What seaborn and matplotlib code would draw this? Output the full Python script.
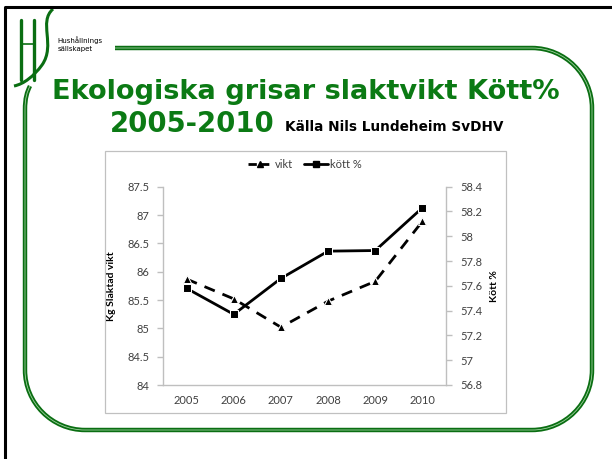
import numpy as np
import pandas as pd
import seaborn as sns
import matplotlib.pyplot as plt
from matplotlib.path import Path
from matplotlib.patches import PathPatch, Rectangle
from matplotlib.lines import Line2D

# data
years = ["2005", "2006", "2007", "2008", "2009", "2010"]
vikt = [85.87, 85.52, 85.02, 85.48, 85.83, 86.89]
kott = [57.58, 57.37, 57.66, 57.88, 57.885, 58.23]

left_ticks = [84, 84.5, 85, 85.5, 86, 86.5, 87, 87.5]
right_ticks = [56.8, 57, 57.2, 57.4, 57.6, 57.8, 58, 58.2, 58.4]

df = pd.DataFrame({"year": years, "vikt": vikt, "kott": kott})

sns.set_theme(style="white")
plt.rcParams["font.family"] = ["Lato", "DejaVu Sans"]

W, H = 612, 459
fig = plt.figure(figsize=(W / 100, H / 100), dpi=100)
fig.patch.set_facecolor("white")

# background axes in pixel coords for the slide decoration
bg = fig.add_axes([0, 0, 1, 1], zorder=0)
bg.set_xlim(0, W)
bg.set_ylim(H, 0)
bg.axis("off")

green = "#0a6e12"
tgreen = "#0b7a14"

# black slide border (cropped at right/bottom)
bg.plot([5, 5, W + 5], [H + 5, 7, 7], color="black", lw=2.2)

# rounded green frame
r = 60
k = 0.55 * r
verts = [(115, 48), (592 - r, 48),
         (592 - r + k, 48), (592, 48 + r - k), (592, 48 + r),
         (592, 430 - r),
         (592, 430 - r + k), (592 - r + k, 430), (592 - r, 430),
         (25 + r, 430),
         (25 + r - k, 430), (25, 430 - r + k), (25, 430 - r),
         (25, 110),
         (25, 98), (27, 92), (30, 86)]
codes = [Path.MOVETO, Path.LINETO,
         Path.CURVE4, Path.CURVE4, Path.CURVE4,
         Path.LINETO,
         Path.CURVE4, Path.CURVE4, Path.CURVE4,
         Path.LINETO,
         Path.CURVE4, Path.CURVE4, Path.CURVE4,
         Path.LINETO,
         Path.CURVE4, Path.CURVE4, Path.CURVE4]
bg.add_patch(PathPatch(Path(verts, codes), fill=False, ec=green, lw=3.2))
bg.add_patch(PathPatch(Path(verts, codes), fill=False, ec="#9fd19f", lw=0.6))

# logo: H and S strokes
bg.plot([21, 21], [20, 80], color=green, lw=2.4)
bg.plot([34, 34], [20, 80], color=green, lw=2.4)
bg.plot([21, 34], [44, 44], color=green, lw=1.2)
s_verts = [(53, 9), (38, 22), (56, 45), (42, 65), (34, 76), (24, 84), (14, 86)]
s_codes = [Path.MOVETO, Path.CURVE4, Path.CURVE4, Path.CURVE4,
           Path.CURVE4, Path.CURVE4, Path.CURVE4]
bg.add_patch(PathPatch(Path(s_verts, s_codes), fill=False, ec=green, lw=2.2))
bg.text(57, 43, "Hushållnings", fontsize=5, family="DejaVu Sans", color="black", va="baseline")
bg.text(58, 51, "sällskapet", fontsize=5, family="DejaVu Sans", color="black", va="baseline")

# titles
bg.text(306, 99, "Ekologiska grisar slaktvikt Kött%", fontsize=19.6, fontweight="bold",
        family="DejaVu Sans", color=tgreen, ha="center", va="baseline")
bg.text(110, 132, "2005-2010", fontsize=19.8, fontweight="bold",
        family="DejaVu Sans", color=tgreen, ha="left", va="baseline")
bg.text(285, 131, "Källa Nils Lundeheim SvDHV", fontsize=9.8, fontweight="bold",
        family="DejaVu Sans", color="black", ha="left", va="baseline")

# chart area box
bg.add_patch(Rectangle((105, 151), 401, 262, fc="white", ec="#c0c0c0", lw=0.9))

# the chart
ax = fig.add_axes([163 / W, 1 - 385 / H, 283 / W, 198.3 / H], zorder=2)
ax.patch.set_alpha(0)
ax2 = ax.twinx()

sns.lineplot(data=df, x="year", y="vikt", ax=ax, color="black", lw=2,
             marker="^", markersize=6, dashes=False, linestyle=(0, (4, 3)),
             label="vikt", legend=False)
sns.lineplot(data=df, x="year", y="kott", ax=ax2, color="black", lw=2,
             marker="s", markersize=6, label="kött %", legend=False)

ax.set_xlim(-0.5, 5.5)
ax.set_ylim(84, 87.5)
ax2.set_ylim(56.8, 58.4)
ax.set_yticks(left_ticks)
ax.set_yticklabels([f"{t:g}" for t in left_ticks])
ax2.set_yticks(right_ticks)
ax2.set_yticklabels([f"{t:g}" for t in right_ticks])
ax.set_xticks(range(len(years)))
ax.set_xticklabels(years)
ax.set_xticks(np.arange(-0.5, 6, 1), minor=True)

tick_col = "#404040"
spine_col = "#bfbfbf"
for a in (ax, ax2):
    for s in a.spines.values():
        s.set_visible(False)
ax.spines["left"].set_visible(True)
ax.spines["bottom"].set_visible(True)
ax2.spines["right"].set_visible(True)
for sp in (ax.spines["left"], ax.spines["bottom"], ax2.spines["right"]):
    sp.set_color(spine_col)
    sp.set_linewidth(1)

ax.tick_params(axis="x", which="major", length=0, pad=7, labelsize=8, labelcolor=tick_col)
ax.tick_params(axis="x", which="minor", length=4, color=spine_col, width=1, direction="out")
ax.tick_params(axis="y", length=4, color=spine_col, width=1, direction="out",
               pad=6, labelsize=8, labelcolor=tick_col, left=True)
ax2.tick_params(axis="y", length=4, color=spine_col, width=1, direction="out",
                pad=6, labelsize=8, labelcolor=tick_col, right=True)

ax.set_xlabel("")
ax.set_ylabel("Kg Slaktad vikt", fontsize=7.5, fontweight="bold", color="black", labelpad=8)
ax2.set_ylabel("Kött %", fontsize=7.5, fontweight="bold", color="black", rotation=90, labelpad=6)
ax.grid(False)
ax2.grid(False)

handles = [Line2D([], [], color="black", lw=2, linestyle=(0, (3, 1.5)), marker="^", markersize=5),
           Line2D([], [], color="black", lw=2, marker="s", markersize=5)]
fig.legend(handles, ["vikt", "kött %"], loc="center", bbox_to_anchor=(305 / W, 1 - 164 / H),
           ncol=2, frameon=False, fontsize=8, handlelength=2.2, handletextpad=0.2,
           columnspacing=1.0, labelcolor="#404040")

fig.savefig("out.png", dpi=100)
